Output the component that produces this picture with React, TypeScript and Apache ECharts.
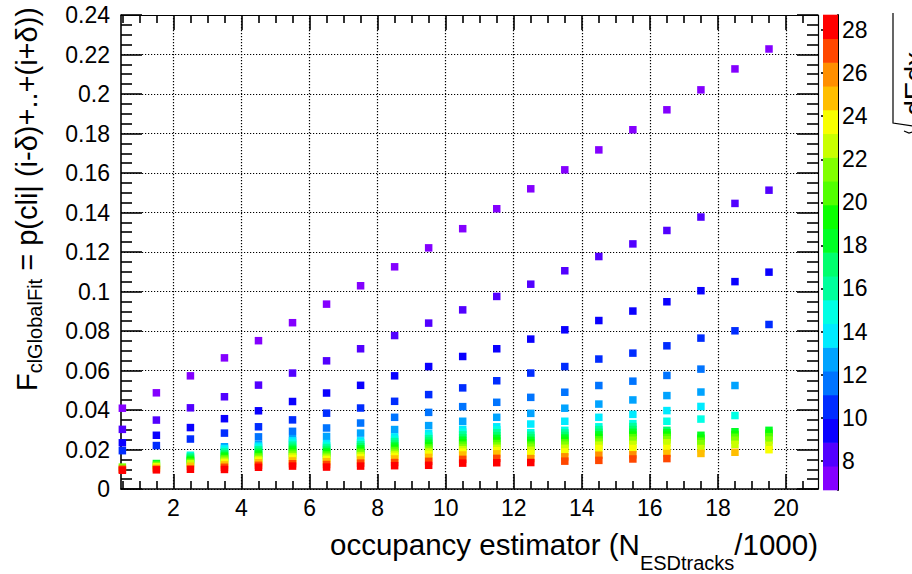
import React, { useEffect, useRef } from "react";
import * as echarts from "echarts";

// Axis ranges of the frame and of the colour (z) axis
const X_MIN = 0.46;
const X_MAX = 20.94;
const Y_MIN = 0;
const Y_MAX = 0.24;
const Z_MIN = 6.64;
const Z_MAX = 28.7;

// Occupancy bins (N_ESDtracks / 1000)
const occupancy = [
  0.5, 1.5, 2.5, 3.5, 4.5, 5.5, 6.5, 7.5, 8.5, 9.5,
  10.5, 11.5, 12.5, 13.5, 14.5, 15.5, 16.5, 17.5, 18.5, 19.5,
];

// Per occupancy bin: [F_clGlobalFit, sqrt(dEdx)] pairs, ordered by sqrt(dEdx)
const fitByOccupancy: [number, number][][] = [
  [[0.0409, 7.2], [0.0302, 8.3], [0.0234, 9.4], [0.0194, 10.5], [0.0111, 21.5], [0.0100, 27.0], [0.0095, 28.1]],
  [[0.0487, 7.2], [0.0349, 8.3], [0.0272, 9.4], [0.0220, 10.5], [0.0129, 18.2], [0.0120, 21.5], [0.0112, 23.7], [0.0104, 25.9], [0.0097, 28.1]],
  [[0.0573, 7.2], [0.0411, 8.3], [0.0311, 9.4], [0.0253, 10.5], [0.0171, 14.9], [0.0164, 16.0], [0.0157, 17.1], [0.0150, 18.2], [0.0143, 19.3], [0.0136, 20.4], [0.0129, 22.6], [0.0115, 24.8], [0.0100, 28.1]],
  [[0.0664, 7.2], [0.0467, 8.3], [0.0356, 9.4], [0.0283, 10.5], [0.0214, 12.7], [0.0205, 13.8], [0.0196, 14.9], [0.0187, 16.0], [0.0178, 17.1], [0.0170, 18.2], [0.0162, 19.3], [0.0154, 20.4], [0.0147, 21.5], [0.0140, 22.6], [0.0133, 23.7], [0.0122, 24.8], [0.0110, 27.0], [0.0099, 28.1]],
  [[0.0751, 7.2], [0.0526, 8.3], [0.0396, 9.4], [0.0315, 10.5], [0.0264, 11.6], [0.0226, 12.7], [0.0217, 13.8], [0.0208, 14.9], [0.0199, 16.0], [0.0190, 17.1], [0.0181, 18.2], [0.0172, 19.3], [0.0164, 20.4], [0.0156, 21.5], [0.0149, 22.6], [0.0142, 23.7], [0.0133, 24.8], [0.0120, 27.0], [0.0110, 28.1]],
  [[0.0842, 7.2], [0.0587, 8.3], [0.0443, 9.4], [0.0350, 10.5], [0.0292, 11.6], [0.0255, 12.7], [0.0244, 13.8], [0.0233, 14.9], [0.0222, 16.0], [0.0211, 17.1], [0.0201, 18.2], [0.0191, 19.3], [0.0181, 20.4], [0.0172, 21.5], [0.0163, 22.6], [0.0155, 23.7], [0.0142, 24.8], [0.0128, 27.0], [0.0116, 28.1]],
  [[0.0936, 7.2], [0.0649, 8.3], [0.0486, 9.4], [0.0384, 10.5], [0.0309, 11.6], [0.0266, 12.7], [0.0230, 13.8], [0.0220, 14.9], [0.0210, 16.0], [0.0200, 17.1], [0.0190, 18.2], [0.0181, 19.3], [0.0172, 20.4], [0.0164, 21.5], [0.0156, 22.6], [0.0148, 23.7], [0.0138, 24.8], [0.0124, 27.0], [0.0111, 28.1]],
  [[0.1029, 7.2], [0.0710, 8.3], [0.0525, 9.4], [0.0410, 10.5], [0.0334, 11.6], [0.0283, 12.7], [0.0244, 13.8], [0.0234, 14.9], [0.0224, 16.0], [0.0214, 17.1], [0.0204, 18.2], [0.0195, 19.3], [0.0186, 20.4], [0.0177, 21.5], [0.0168, 22.6], [0.0159, 23.7], [0.0147, 24.8], [0.0131, 27.0], [0.0116, 28.1]],
  [[0.1125, 7.2], [0.0777, 8.3], [0.0573, 9.4], [0.0444, 10.5], [0.0363, 11.6], [0.0301, 12.7], [0.0264, 13.8], [0.0252, 14.9], [0.0240, 16.0], [0.0228, 17.1], [0.0217, 18.2], [0.0206, 19.3], [0.0195, 20.4], [0.0185, 21.5], [0.0175, 22.6], [0.0165, 23.7], [0.0152, 24.8], [0.0134, 27.0], [0.0118, 28.1]],
  [[0.1221, 7.2], [0.0840, 8.3], [0.0620, 9.4], [0.0478, 10.5], [0.0388, 11.6], [0.0321, 12.7], [0.0281, 13.8], [0.0268, 14.9], [0.0255, 16.0], [0.0243, 17.1], [0.0231, 18.2], [0.0219, 19.3], [0.0208, 20.4], [0.0197, 21.5], [0.0187, 22.6], [0.0176, 23.7], [0.0160, 24.8], [0.0140, 27.0], [0.0120, 28.1]],
  [[0.1318, 7.2], [0.0907, 8.3], [0.0671, 9.4], [0.0512, 10.5], [0.0417, 11.6], [0.0343, 12.7], [0.0302, 13.8], [0.0288, 14.9], [0.0274, 16.0], [0.0260, 17.1], [0.0247, 18.2], [0.0234, 19.3], [0.0222, 20.4], [0.0210, 21.5], [0.0199, 22.6], [0.0187, 23.7], [0.0172, 24.8], [0.0150, 27.0], [0.0131, 28.1]],
  [[0.1419, 7.2], [0.0975, 8.3], [0.0710, 9.4], [0.0548, 10.5], [0.0439, 11.6], [0.0363, 12.7], [0.0315, 13.8], [0.0300, 14.9], [0.0285, 16.0], [0.0270, 17.1], [0.0256, 18.2], [0.0243, 19.3], [0.0230, 20.4], [0.0218, 21.5], [0.0206, 22.6], [0.0194, 23.7], [0.0178, 24.8], [0.0155, 27.0], [0.0133, 28.1]],
  [[0.1520, 7.2], [0.1037, 8.3], [0.0759, 9.4], [0.0587, 10.5], [0.0464, 11.6], [0.0383, 12.7], [0.0329, 13.8], [0.0285, 14.9], [0.0272, 16.0], [0.0259, 17.1], [0.0246, 18.2], [0.0234, 19.3], [0.0222, 20.4], [0.0211, 21.5], [0.0196, 22.6], [0.0179, 23.7], [0.0154, 25.9], [0.0134, 28.1]],
  [[0.1616, 7.2], [0.1105, 8.3], [0.0806, 9.4], [0.0620, 10.5], [0.0490, 11.6], [0.0409, 12.7], [0.0343, 13.8], [0.0297, 14.9], [0.0284, 16.0], [0.0271, 17.1], [0.0258, 18.2], [0.0246, 19.3], [0.0234, 20.4], [0.0222, 21.5], [0.0206, 22.6], [0.0188, 23.7], [0.0163, 25.9], [0.0141, 27.0]],
  [[0.1717, 7.2], [0.1177, 8.3], [0.0853, 9.4], [0.0658, 10.5], [0.0524, 11.6], [0.0430, 12.7], [0.0363, 13.8], [0.0315, 14.9], [0.0301, 16.0], [0.0287, 17.1], [0.0274, 18.2], [0.0261, 19.3], [0.0249, 20.4], [0.0237, 21.5], [0.0222, 22.6], [0.0205, 23.7], [0.0171, 25.9], [0.0145, 27.0]],
  [[0.1819, 7.2], [0.1241, 8.3], [0.0901, 9.4], [0.0688, 10.5], [0.0546, 11.6], [0.0451, 12.7], [0.0378, 13.8], [0.0331, 14.9], [0.0316, 16.0], [0.0301, 17.1], [0.0287, 18.2], [0.0273, 19.3], [0.0260, 20.4], [0.0247, 21.5], [0.0226, 22.6], [0.0205, 23.7], [0.0173, 25.9], [0.0152, 27.0]],
  [[0.1920, 7.2], [0.1309, 8.3], [0.0948, 9.4], [0.0725, 10.5], [0.0575, 11.6], [0.0473, 12.7], [0.0397, 13.8], [0.0343, 14.9], [0.0297, 17.1], [0.0285, 18.2], [0.0273, 19.3], [0.0261, 20.4], [0.0249, 21.5], [0.0234, 22.6], [0.0205, 23.7], [0.0180, 24.8], [0.0154, 27.0]],
  [[0.2021, 7.2], [0.1377, 8.3], [0.1004, 9.4], [0.0764, 10.5], [0.0607, 11.6], [0.0491, 12.7], [0.0418, 13.8], [0.0354, 14.9], [0.0272, 18.2], [0.0257, 19.3], [0.0242, 20.4], [0.0229, 21.5], [0.0205, 22.6], [0.0180, 24.8]],
  [[0.2127, 7.2], [0.1446, 8.3], [0.1050, 9.4], [0.0801, 10.5], [0.0524, 12.7], [0.0372, 14.9], [0.0290, 18.2], [0.0276, 19.3], [0.0262, 20.4], [0.0247, 21.5], [0.0226, 22.6], [0.0186, 24.8]],
  [[0.2228, 7.2], [0.1513, 8.3], [0.1098, 9.4], [0.0833, 10.5], [0.0297, 18.2], [0.0282, 19.3], [0.0265, 20.4], [0.0248, 21.5], [0.0221, 22.6], [0.0199, 23.7]],
];

// Tick labels
const xTickValues = [2, 4, 6, 8, 10, 12, 14, 16, 18, 20];
const zTickValues = [8, 10, 12, 14, 16, 18, 20, 22, 24, 26, 28];

// Colour palette, one colour per contour level (violet -> red)
const paletteColors = [
  "#8400ff", "#5200ff", "#0a00ff", "#002cff", "#0074ff",
  "#00a3ff", "#00ebff", "#00ffe4", "#00ff9c", "#00ff6d",
  "#00ff25", "#0aff00", "#52ff00", "#81ff00", "#c9ff00",
  "#f8ff00", "#ffbe00", "#ff8f00", "#ff4700", "#ff0000",
];

const FONT = "'Liberation Sans', Arial, Helvetica, sans-serif";
const BLACK = "#000";

export default function App() {
  const ref = useRef<HTMLDivElement>(null);

  useEffect(() => {
    if (!ref.current) return;
    const chart = echarts.init(ref.current, undefined, { renderer: "svg" });

    const step = (Z_MAX - Z_MIN) / paletteColors.length;
    const levels = paletteColors.map((_, k) => [Z_MIN + k * step, Z_MIN + (k + 1) * step]);
    const pieces = levels.map(([lo, hi], k) =>
      k === levels.length - 1
        ? { gte: lo, lte: hi, color: paletteColors[k] }
        : { gte: lo, lt: hi, color: paletteColors[k] }
    );

    const points: number[][] = [];
    occupancy.forEach((x, i) => {
      fitByOccupancy[i].forEach(([f, z]) => points.push([x, f, z]));
    });

    const tickLine = { color: BLACK, width: 1.6 };
    const dotted = { color: BLACK, width: 1.2, type: [1.2, 1.8] as number[] };
    const labelStyle = { color: BLACK, fontSize: 23, fontFamily: FONT };

    const option: any = {
      animation: false,
      backgroundColor: "#fff",
      grid: [
        { left: 121, top: 15, width: 697, height: 474, outerBoundsMode: "none", containLabel: false },
        { left: 823, top: 15, width: 15, height: 475, outerBoundsMode: "none", containLabel: false },
      ],
      xAxis: [
        {
          gridIndex: 0, type: "value", position: "bottom", min: X_MIN, max: X_MAX, splitNumber: 10,
          axisLine: { show: true, onZero: false, lineStyle: tickLine },
          axisTick: { show: true, inside: true, length: 15, customValues: xTickValues, lineStyle: tickLine },
          minorTick: { show: true, splitNumber: 4, length: 8, lineStyle: tickLine },
          axisLabel: { show: true, customValues: xTickValues, margin: 7, ...labelStyle },
          splitLine: { show: true, lineStyle: dotted },
        },
        {
          gridIndex: 0, type: "value", position: "top", min: X_MIN, max: X_MAX, splitNumber: 10,
          axisLine: { show: true, onZero: false, lineStyle: { color: BLACK, width: 1.2 } },
          axisTick: { show: true, inside: true, length: 15, customValues: xTickValues, lineStyle: tickLine },
          minorTick: { show: true, splitNumber: 4, length: 8, lineStyle: tickLine },
          axisLabel: { show: false },
          splitLine: { show: false },
        },
        { gridIndex: 1, type: "value", min: 0, max: 1, show: false },
      ],
      yAxis: [
        {
          gridIndex: 0, type: "value", position: "left", min: Y_MIN, max: Y_MAX, interval: 0.02,
          axisLine: { show: true, onZero: false, lineStyle: tickLine },
          axisTick: { show: true, inside: true, length: 21, lineStyle: tickLine },
          minorTick: { show: true, splitNumber: 4, length: 11, lineStyle: tickLine },
          axisLabel: { show: true, margin: 11, ...labelStyle },
          splitLine: { show: true, lineStyle: dotted },
        },
        {
          gridIndex: 0, type: "value", position: "right", min: Y_MIN, max: Y_MAX, interval: 0.02,
          axisLine: { show: true, onZero: false, lineStyle: { color: BLACK, width: 1.2 } },
          axisTick: { show: true, inside: true, length: 21, lineStyle: tickLine },
          minorTick: { show: true, splitNumber: 4, length: 11, lineStyle: tickLine },
          axisLabel: { show: false },
          splitLine: { show: false },
        },
        {
          gridIndex: 1, type: "value", position: "right", min: Z_MIN, max: Z_MAX,
          axisLine: { show: true, onZero: false, lineStyle: { color: BLACK, width: 2 } },
          axisTick: { show: true, inside: true, length: 17, customValues: zTickValues, lineStyle: tickLine },
          minorTick: { show: false },
          axisLabel: { show: true, customValues: zTickValues, margin: 4, ...labelStyle },
          splitLine: { show: false },
        },
      ],
      visualMap: {
        type: "piecewise",
        show: false,
        dimension: 2,
        seriesIndex: 0,
        pieces,
      },
      series: [
        {
          type: "scatter",
          xAxisIndex: 0,
          yAxisIndex: 0,
          symbol: "rect",
          symbolSize: 7.5,
          itemStyle: { opacity: 1 },
          emphasis: { disabled: true },
          data: points,
          z: 3,
        },
        {
          type: "custom",
          xAxisIndex: 2,
          yAxisIndex: 2,
          silent: true,
          encode: { x: 0, y: [1, 2] },
          data: levels.map(([lo, hi]) => [0, lo, hi]),
          renderItem: (params: any, api: any) => {
            const lo = api.value(1);
            const hi = api.value(2);
            const a = api.coord([0, lo]);
            const b = api.coord([1, hi]);
            return {
              type: "rect",
              shape: { x: a[0], y: b[1] - 0.3, width: b[0] - a[0], height: a[1] - b[1] + 0.6 },
              style: { fill: paletteColors[params.dataIndex] },
            };
          },
          z: 1,
        },
      ],
      graphic: [
        {
          type: "text",
          x: 818,
          y: 529,
          style: {
            text: "{m|occupancy estimator (N}{s|ESDtracks}{m|/1000)}",
            align: "right",
            verticalAlign: "top",
            rich: {
              m: { fontSize: 29.5, fontFamily: FONT, fill: BLACK, verticalAlign: "top" },
              s: { fontSize: 20, fontFamily: FONT, fill: BLACK, verticalAlign: "top", padding: [24, 0, 0, 0] },
            },
          },
        },
        {
          type: "text",
          x: 12,
          y: 7,
          rotation: Math.PI / 2,
          style: {
            text: "{m|F}{s|clGlobalFit}{m| = p(cli| (i-δ)+..+(i+δ))}",
            align: "right",
            verticalAlign: "top",
            rich: {
              m: { fontSize: 29, fontFamily: FONT, fill: BLACK, verticalAlign: "top" },
              s: { fontSize: 20, fontFamily: FONT, fill: BLACK, verticalAlign: "top", padding: [13, 0, 0, 0] },
            },
          },
        },
        {
          type: "text",
          x: 900,
          y: 52,
          rotation: Math.PI / 2,
          style: {
            text: "dEdx",
            fontSize: 28,
            fontFamily: FONT,
            fill: BLACK,
            align: "right",
            verticalAlign: "top",
          },
        },
        {
          type: "polyline",
          shape: { points: [[893, 13], [893, 123], [926, 128], [909, 133], [904, 131]] },
          style: { stroke: BLACK, lineWidth: 1.2, fill: null },
        },
      ],
    };

    chart.setOption(option);
    return () => chart.dispose();
  }, []);

  return (
    <div
      ref={ref}
      style={{ position: "fixed", left: 0, top: 0, width: 912, height: 574, background: "#fff" }}
    />
  );
}
